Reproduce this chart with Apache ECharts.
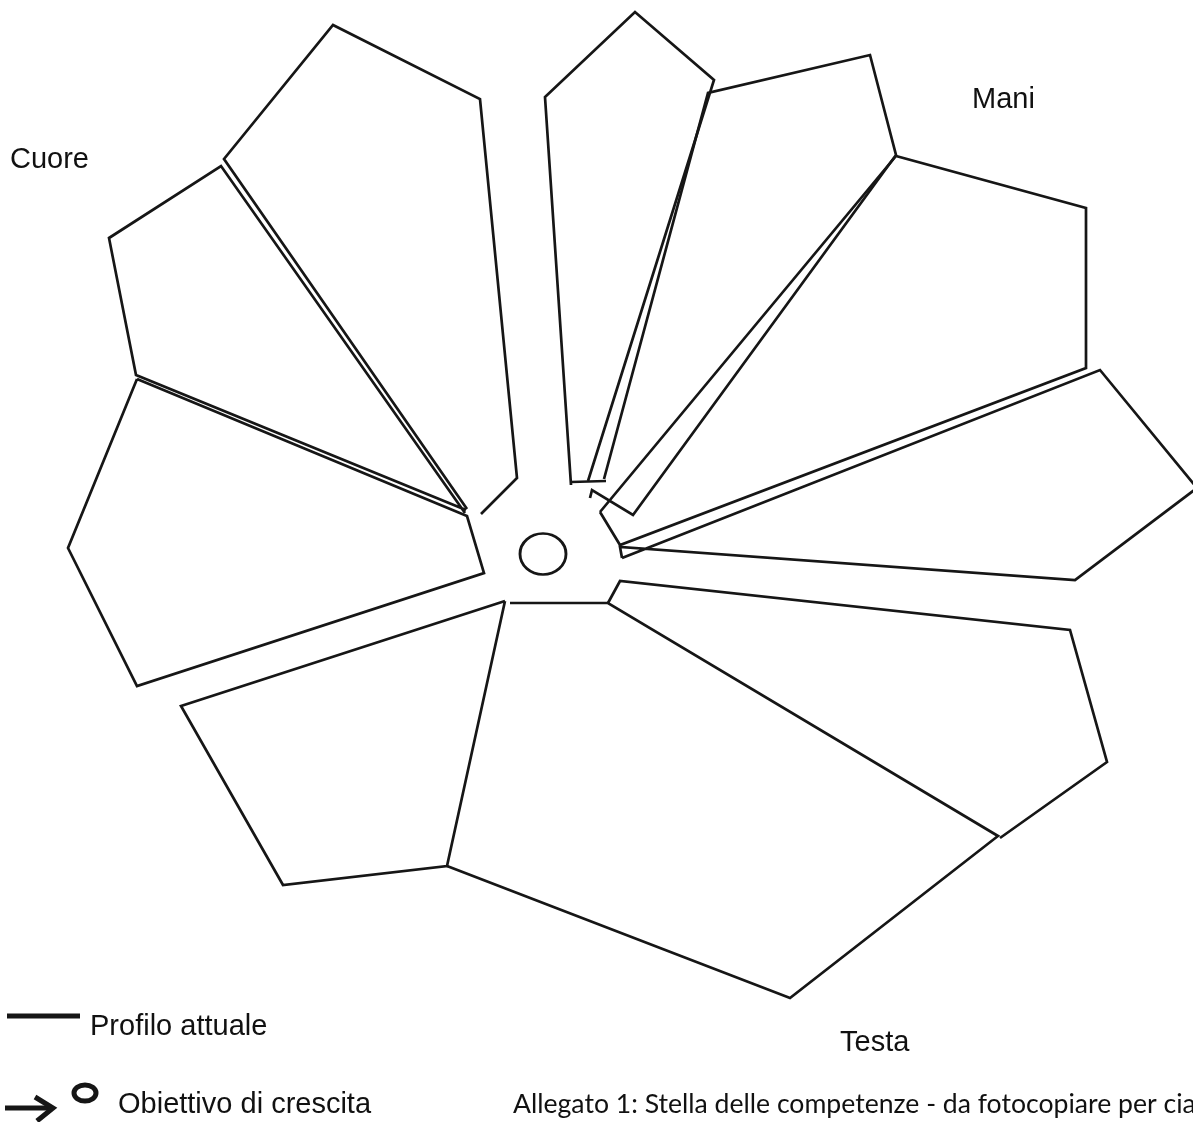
<!DOCTYPE html>
<html>
<head>
<meta charset="utf-8">
<title>Stella delle competenze</title>
<script src="https://cdn.jsdelivr.net/npm/echarts@6/dist/echarts.min.js"></script>
<style>
  html, body { margin: 0; padding: 0; background: #fff; }
  #main { width: 1193px; height: 1122px; }
</style>
</head>
<body>
<div id="main"></div>
<script>
// petali della stella (vertici, in unita' del foglio)
var petalCuore1 = [[467, 509], [224, 159], [333, 25], [480, 99], [517, 478], [481, 514]];
var petalCuore2 = [[465, 513], [221, 166], [109, 238], [136, 375], [466, 510]];
var petalCuore3 = [[137, 379], [467, 516], [484, 573], [137, 686], [68, 548], [137, 379]];
var petalTesta1 = [[505, 601], [181, 706], [283, 885], [447, 866], [505, 601]];
var petalTesta2 = [[510, 603], [608, 603], [998, 836], [790, 998], [447, 866]];
var petalTesta3 = [[608, 603], [620, 581], [1070, 630], [1107, 762], [1000, 838]];
var petalMani1 = [[622, 558], [1100, 370], [1197, 488], [1075, 580], [620, 547], [622, 558]];
var petalMani2 = [[600, 512], [896, 156], [1086, 208], [1086, 368], [620, 545], [600, 512]];
var petalMani3 = [[604, 479], [708, 93], [870, 55], [896, 155], [633, 515], [592, 490], [590, 498]];
var petalMani4 = [[571, 485], [545, 97], [635, 12], [714, 80], [588, 481]];
var goalLine = [[571, 482], [606, 481]];
var centerGoal = [[543, 554]];

var petals = [petalCuore1, petalCuore2, petalCuore3, petalTesta1, petalTesta2,
  petalTesta3, petalMani1, petalMani2, petalMani3, petalMani4, goalLine];

var ink = '#161616';
var myChart = echarts.init(document.getElementById('main'));
var option;

var series = petals.map(function (p) {
  return {
    type: 'line',
    data: p,
    showSymbol: false,
    silent: true,
    clip: true,
    lineStyle: { color: ink, width: 2.7, join: 'miter' }
  };
});

series.push({
  type: 'scatter',
  data: centerGoal,
  symbol: 'circle',
  symbolSize: [46, 41],
  silent: true,
  itemStyle: { color: 'rgba(0,0,0,0)', borderColor: ink, borderWidth: 2.7, opacity: 1 }
});

var labelFont = { fontFamily: 'Liberation Sans', fontSize: 29, fill: '#111' };

option = {
  animation: false,
  backgroundColor: '#fff',
  grid: { left: 0, right: 0, top: 0, bottom: 0 },
  xAxis: { type: 'value', min: 0, max: 1193, show: false },
  yAxis: { type: 'value', min: 0, max: 1122, inverse: true, show: false },
  series: series,
  graphic: [
    { type: 'text', left: 10, top: 145, style: Object.assign({ text: 'Cuore' }, labelFont) },
    { type: 'text', left: 972, top: 85, style: Object.assign({ text: 'Mani' }, labelFont) },
    { type: 'text', left: 840, top: 1028, style: Object.assign({ text: 'Testa' }, labelFont) },
    // legenda
    { type: 'line', shape: { x1: 7, y1: 1016, x2: 80, y2: 1016 }, style: { stroke: ink, lineWidth: 5 } },
    { type: 'text', left: 90, top: 1012, style: Object.assign({ text: 'Profilo attuale' }, labelFont) },
    { type: 'polyline', shape: { points: [[5, 1108], [52, 1108]] }, style: { stroke: ink, lineWidth: 5, fill: null } },
    { type: 'polyline', shape: { points: [[35, 1097], [53, 1108], [37, 1121]] }, style: { stroke: ink, lineWidth: 5, fill: null } },
    { type: 'ellipse', shape: { cx: 85, cy: 1093, rx: 11, ry: 8 }, style: { stroke: ink, lineWidth: 5, fill: null } },
    { type: 'text', left: 118, top: 1090, style: Object.assign({ text: 'Obiettivo di crescita' }, labelFont) },
    {
      type: 'text', left: 513, top: 1091,
      style: { text: 'Allegato 1: Stella delle competenze - da fotocopiare per cia', fontFamily: 'Lato', fontSize: 26.6, fill: '#111' }
    }
  ]
};

option && myChart.setOption(option);
window.onresize = myChart.resize;
</script>
</body>
</html>
